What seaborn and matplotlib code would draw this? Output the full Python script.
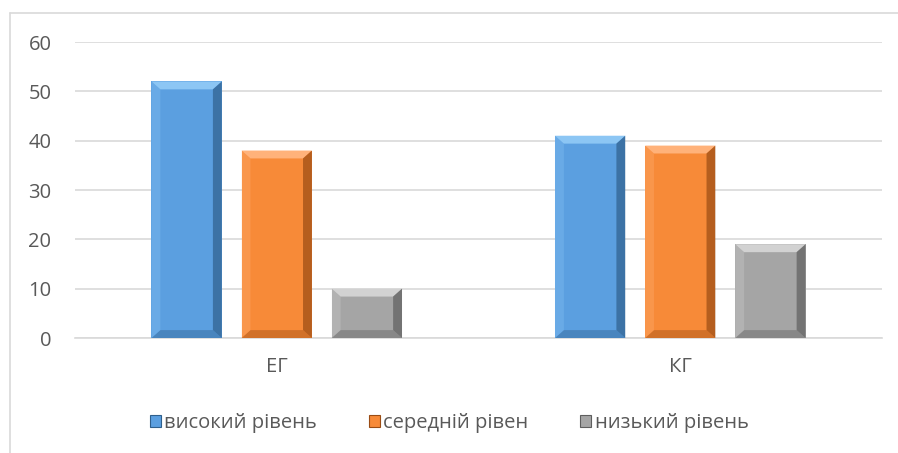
import numpy as np
import pandas as pd
import matplotlib.pyplot as plt
import seaborn as sns
from matplotlib.patches import Polygon, Patch
from matplotlib.lines import Line2D

# Data
groups = ['ЕГ', 'КГ']
levels = ['високий рівень', 'середній рівен', 'низький рівень']
values_eg = [52, 38, 10]
values_kg = [41, 39, 19]
yticks = [0, 10, 20, 30, 40, 50, 60]

colors = ['#5B9FE0', '#F78A38', '#A5A5A5']
tops = ['#8CC6F4', '#FFB27A', '#D2D2D2']
darks = ['#2F5F8C', '#9A4C14', '#5E5E5E']

df = pd.DataFrame({
    'group': np.repeat(groups, len(levels)),
    'level': levels * len(groups),
    'value': values_eg + values_kg,
})

sns.set_theme(style='white')
plt.rcParams['font.family'] = ['Open Sans', 'DejaVu Sans']
text_color = '#595959'

fig = plt.figure(figsize=(8.98, 4.53), dpi=100)
ax = fig.add_axes([75 / 898, 1 - 338 / 453, (882 - 75) / 898, (338 - 42) / 453])

sns.barplot(data=df, x='group', y='value', hue='level', hue_order=levels,
            palette=colors, width=0.67, gap=0.22, saturation=1,
            edgecolor='none', legend=False, ax=ax, zorder=3)

# fake bevel on each bar, derived from drawn patches
dx, dy = 0.022, 1.6
for i, container in enumerate(ax.containers):
    for bar in container:
        x0, y0 = bar.get_x(), bar.get_y()
        w, h = bar.get_width(), bar.get_height()
        x1, y1 = x0 + w, y0 + h
        bdy = min(dy, h / 3)
        ax.add_patch(Polygon([[x0, y1], [x1, y1], [x1 - dx, y1 - bdy], [x0 + dx, y1 - bdy]],
                             closed=True, fc=tops[i], ec='none', zorder=4))
        ax.add_patch(Polygon([[x1, y1], [x1, y0], [x1 - dx, y0 + bdy], [x1 - dx, y1 - bdy]],
                             closed=True, fc=darks[i], ec='none', alpha=0.7, zorder=4))
        ax.add_patch(Polygon([[x0, y0], [x1, y0], [x1 - dx, y0 + bdy], [x0 + dx, y0 + bdy]],
                             closed=True, fc=darks[i], ec='none', alpha=0.4, zorder=4))
        ax.add_patch(Polygon([[x0, y1], [x0, y0], [x0 + dx, y0 + bdy], [x0 + dx, y1 - bdy]],
                             closed=True, fc=tops[i], ec='none', alpha=0.3, zorder=4))

ax.set_ylim(0, 60)
ax.set_xlim(-0.5, 1.5)
ax.set_yticks(yticks)
ax.yaxis.grid(True, color='#D9D9D9', linewidth=1.2, zorder=0)
ax.xaxis.grid(False)
for s in ['top', 'right', 'left']:
    ax.spines[s].set_visible(False)
ax.spines['bottom'].set_color('#D9D9D9')
ax.spines['bottom'].set_linewidth(1.2)
ax.set_xlabel('')
ax.set_ylabel('')
ax.tick_params(axis='both', length=0, labelsize=14.5, labelcolor=text_color)
ax.tick_params(axis='y', pad=17)
ax.tick_params(axis='x', pad=14)

# chart border (top and left only visible)
fig.add_artist(Line2D([10 / 898, 1], [1 - 13 / 453, 1 - 13 / 453],
                      transform=fig.transFigure, color='#D9D9D9', lw=1.2))
fig.add_artist(Line2D([10 / 898, 10 / 898], [0, 1 - 13 / 453],
                      transform=fig.transFigure, color='#D9D9D9', lw=1.2))

handles = [Patch(facecolor=c, edgecolor=d, linewidth=0.8) for c, d in zip(colors, darks)]
fig.legend(handles, levels, loc='center', bbox_to_anchor=(0.5, 1 - 423 / 453), ncol=3,
           frameon=False, fontsize=14.5, labelcolor=text_color, handlelength=0.55,
           handleheight=0.55, handletextpad=0.15, columnspacing=2.6)

fig.savefig('out.png', dpi=100)
